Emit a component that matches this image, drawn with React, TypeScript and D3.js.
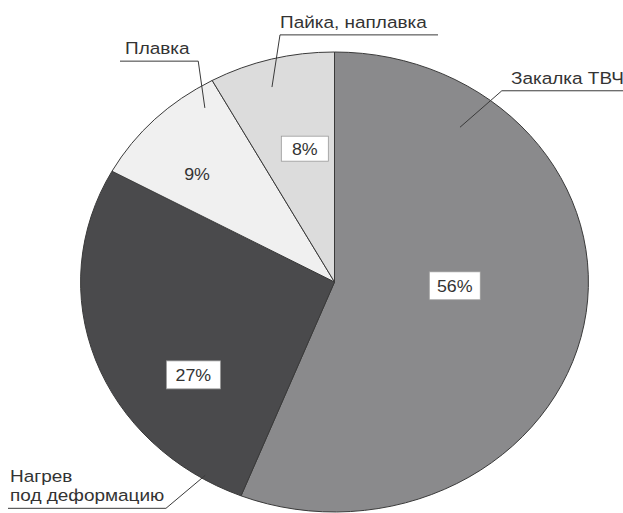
import React from "react";
import * as d3 from "d3";

const categories = ["Закалка ТВЧ", "Нагрев под деформацию", "Плавка", "Пайка, наплавка"];
const shares = [56, 27, 9, 8];
const percentLabels = ["56%", "27%", "9%", "8%"];
const sliceColors = ["#8a8a8c", "#4a4a4c", "#f0f0f0", "#dcdcdc"];

// layout constants (polar: angle in degrees clockwise from top, radius in px)
const W = 623, H = 513;
const cx = 334.5, cy = 282, R = 230, SX = 1.104, TSX = 1.15;
const pctPlacement = [
  { a: 92, r: 109, box: true, bw: 51, bh: 28 },
  { a: 234, r: 158, box: true, bw: 54, bh: 28 },
  { a: 311, r: 165, box: false, bw: 0, bh: 0 },
  { a: 348.6, r: 136, box: true, bw: 47, bh: 25 },
];
const leaderPlacement = [
  { inA: 36.3, inR: 192, elA: 38.4, elR: 244, lineTo: 623, textX: 511, lines: ["Закалка ТВЧ"] },
  { inA: 211.2, inR: 226, elA: 214, elR: 273, lineTo: 8, textX: 10, lines: ["Нагрев", "под деформацию"] },
  { inA: -34, inR: 210, elA: -29.2, elR: 253, lineTo: 120, textX: 125, lines: ["Плавка"] },
  { inA: -16.2, inR: 203, elA: -11.3, elR: 252, lineTo: 438, textX: 280, lines: ["Пайка, наплавка"] },
];

function pt(aDeg: number, r: number): [number, number] {
  const a = (aDeg * Math.PI) / 180;
  return [cx + SX * r * Math.sin(a), cy - r * Math.cos(a)];
}

export default function App() {
  const pie = d3.pie<number>().sort(null).value((d) => d);
  const arcs = pie(shares);
  const arc = d3.arc<d3.PieArcDatum<number>>().innerRadius(0).outerRadius(R);
  const font = "'Liberation Sans', Arial, sans-serif";
  return (
    <svg width={W} height={H} style={{ position: "absolute", left: 0, top: 0, background: "#fff" }}>
      <rect width={W} height={H} fill="#fff" />
      <g transform={`translate(${cx},${cy}) scale(${SX},1)`}>
        {arcs.map((d, i) => (
          <path key={i} d={arc(d) || ""} fill={sliceColors[i]} stroke="#3a3a3a" strokeWidth={1} vectorEffect="non-scaling-stroke" />
        ))}
      </g>
      {leaderPlacement.map((l, i) => {
        const [x1, y1] = pt(l.inA, l.inR);
        const [x2, y2] = pt(l.elA, l.elR);
        const n = l.lines.length;
        return (
          <g key={i}>
            <polyline points={`${x1},${y1} ${x2},${y2} ${l.lineTo},${y2}`} fill="none" stroke="#3a3a3a" strokeWidth={1} />
            {l.lines.map((t, j) => (
              <text
                key={j}
                transform={`translate(${l.textX},${y2 - 7 - (n - 1 - j) * 19}) scale(${TSX},1)`}
                fontFamily={font}
                fontSize={16.5}
                fill="#333"
              >
                {t}
              </text>
            ))}
          </g>
        );
      })}
      {pctPlacement.map((p, i) => {
        const [x, y] = pt(p.a, p.r);
        return (
          <g key={i}>
            {p.box && <rect x={x - p.bw / 2} y={y - p.bh / 2} width={p.bw} height={p.bh} fill="#fff" stroke="#999" strokeWidth={0.8} />}
            <text transform={`translate(${x},${y + 6}) scale(1.08,1)`} textAnchor="middle" fontFamily={font} fontSize={16.5} fill="#333">
              {percentLabels[i]}
            </text>
          </g>
        );
      })}
    </svg>
  );
}
